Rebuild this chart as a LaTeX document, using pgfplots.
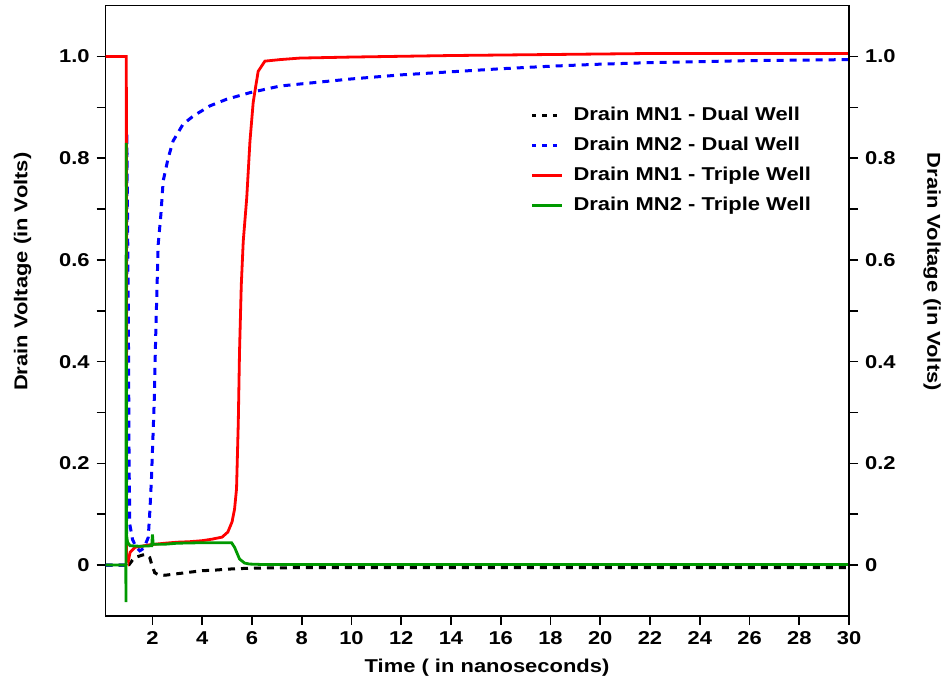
\documentclass[border=0pt]{standalone}
\usepackage{fontspec}
\setmainfont{Liberation Sans}[FakeStretch=1.18]
\usepackage{pgfplots}
\pgfplotsset{compat=1.18}
\newcommand\lf{\fontsize{9.3bp}{11bp}\selectfont\bfseries}
\definecolor{dgreen}{rgb}{0,0.6,0}
\pgfplotsset{
  common/.style={
    scale only axis, width=371.7bp, height=305.15bp,
    xmin=0.12, xmax=30, ymin=-0.1, ymax=1.1,
    ytick={0,0.2,0.4,0.6,0.8,1.0}, yticklabels={0,0.2,0.4,0.6,0.8,1.0},
    minor ytick={0.1,0.3,0.5,0.7,0.9},
    tick align=outside,
    major tick length=4.5bp, minor tick length=4.5bp,
    tick style={black, line width=0.8bp},
    axis line style={black, line width=0.8bp},
    ticklabel style={font=\lf},
    label style={font=\lf},
    /pgf/number format/assume math mode=true,
  }
}
\begin{document}
\begin{tikzpicture}
\begin{axis}[common, name=ax,
  xtick={2,4,...,30}, xtick pos=bottom, ytick pos=left,
  xlabel={Time ( in nanoseconds)},
  ylabel={Drain Voltage (in Volts)},
  xlabel style={at={(rel axis cs:0.513,0)}, anchor=center, yshift=-26bp},
  ylabel style={at={(rel axis cs:0,0.564)}, anchor=center, yshift=41.6bp},
  legend cell align=left,
  legend image code/.code={\draw[#1] (0bp,0bp) -- (15bp,0bp);},
  legend style={draw=none, fill=none, at={(rel axis cs:0.571,0.839)}, anchor=north west,
    inner sep=0pt, row sep=4bp, font=\lf,
    nodes={inner sep=1bp, text height=7bp, text depth=2bp},
    /tikz/every odd column/.append style={column sep=4bp}},
]
\addplot[black, line width=1.5bp, dash pattern=on 3.5bp off 3bp, legend image post style={dash pattern=on 2.2bp off 3bp}] coordinates {
(0.12,0) (0.97,0) (1.0,-0.005) (1.05,0.0) (1.2,0.01) (1.3,0.015) (1.62,0.02) (1.76,0.021) (1.89,0.015) (1.96,0.003) (2.09,-0.015) (2.2,-0.018) (2.5,-0.02) (3.0,-0.017) (3.5,-0.014) (4,-0.011) (4.5,-0.01) (5,-0.008) (5.5,-0.007) (6,-0.006) (8,-0.005) (30,-0.005)};
\addlegendentry{Drain MN1 - Dual Well}
\addplot[blue, line width=1.5bp, dash pattern=on 3.5bp off 3bp, legend image post style={dash pattern=on 2.2bp off 3bp}] coordinates {
(0.12,0) (0.96,0) (0.97,0.85) (1.03,0.5) (1.06,0.2) (1.09,0.08) (1.2,0.05) (1.35,0.035) (1.49,0.028) (1.65,0.033) (1.83,0.054) (1.9,0.11) (1.96,0.17) (2.07,0.32) (2.13,0.45) (2.23,0.63) (2.34,0.69) (2.43,0.755) (2.63,0.80) (2.83,0.834) (3.23,0.867) (3.64,0.883) (4.31,0.903) (4.98,0.916) (5.92,0.929) (7.13,0.942) (7.93,0.946) (10,0.956) (12,0.964) (14,0.97) (16,0.976) (18,0.981) (20,0.985) (22,0.988) (24,0.99) (26,0.992) (28,0.993) (30,0.994)};
\addlegendentry{Drain MN2 - Dual Well}
\addplot[red, line width=1.4bp] coordinates {
(0.12,1.0) (0.95,1.0) (0.96,0.02) (1.03,0.008) (1.1,0.025) (1.3,0.035) (1.9,0.04) (2.5,0.043) (3,0.045) (3.5,0.046) (4.0,0.048) (4.4,0.051) (4.8,0.055) (5.03,0.065) (5.2,0.085) (5.3,0.11) (5.38,0.15) (5.45,0.28) (5.5,0.42) (5.57,0.55) (5.65,0.637) (5.79,0.722) (5.92,0.834) (6.05,0.91) (6.12,0.932) (6.25,0.971) (6.52,0.991) (7.13,0.994) (7.93,0.997) (10,0.999) (14,1.002) (18,1.004) (22,1.006) (30,1.006)};
\addlegendentry{Drain MN1 - Triple Well}
\addplot[dgreen, line width=1.4bp] coordinates {
(0.12,0) (0.93,0) (0.935,-0.073) (0.945,0.83) (0.955,0.06) (1.0,0.045) (1.1,0.038) (1.5,0.037) (1.97,0.038) (2.0,0.06) (2.03,0.041) (2.5,0.041) (3,0.043) (4,0.044) (5.0,0.044) (5.18,0.044) (5.3,0.035) (5.5,0.012) (5.7,0.004) (5.9,0.002) (6.5,0.001) (30,0.001)};
\addlegendentry{Drain MN2 - Triple Well}
\end{axis}
\begin{axis}[common, axis x line=none, axis y line*=right,
  ylabel={Drain Voltage (in Volts)},
  ylabel style={at={(rel axis cs:1,0.564)}, anchor=center, yshift=-41.5bp, rotate=180},
]
\end{axis}
\pgfresetboundingbox
\path[use as bounding box] ([xshift=-52.85bp,yshift=-34.5bp]ax.south west) rectangle ([xshift=48bp,yshift=2.85bp]ax.north east);
\end{tikzpicture}
\end{document}
